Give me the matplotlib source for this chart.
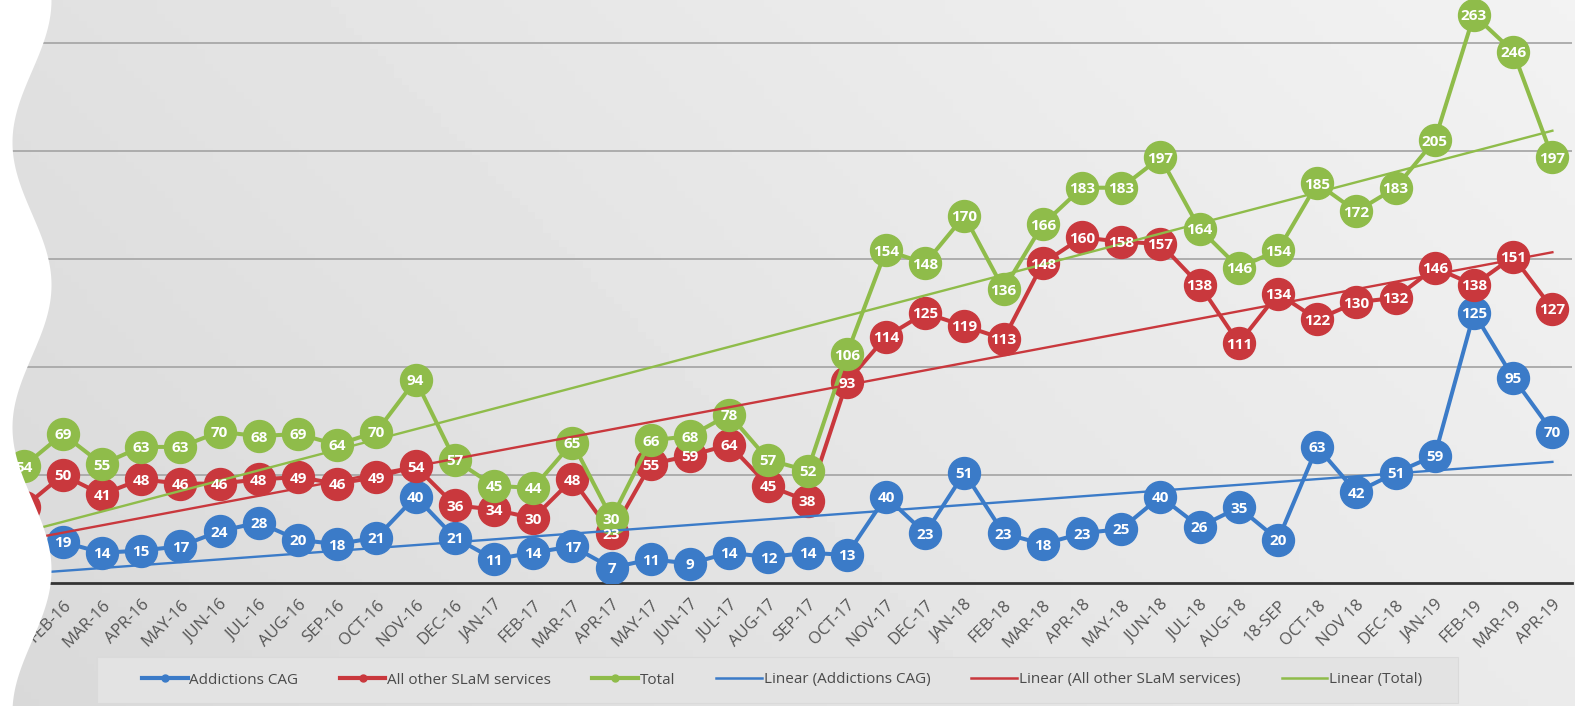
import numpy as np
import matplotlib.pyplot as plt
from matplotlib.lines import Line2D
from matplotlib.patches import Polygon, Rectangle

# -----------------------------
# data
# -----------------------------
months = ['JAN-16', 'FEB-16', 'MAR-16', 'APR-16', 'MAY-16', 'JUN-16', 'JUL-16', 'AUG-16',
          'SEP-16', 'OCT-16', 'NOV-16', 'DEC-16', 'JAN-17', 'FEB-17', 'MAR-17', 'APR-17',
          'MAY-17', 'JUN-17', 'JUL-17', 'AUG-17', 'SEP-17', 'OCT-17', 'NOV-17', 'DEC-17',
          'JAN-18', 'FEB-18', 'MAR-18', 'APR-18', 'MAY-18', 'JUN-18', 'JUL-18', 'AUG-18',
          '18-SEP', 'OCT-18', 'NOV 18', 'DEC-18', 'JAN-19', 'FEB-19', 'MAR-19', 'APR-19']

addictions = [19, 19, 14, 15, 17, 24, 28, 20, 18, 21, 40, 21, 11, 14, 17, 7, 11, 9, 14, 12,
              14, 13, 40, 23, 51, 23, 18, 23, 25, 40, 26, 35, 20, 63, 42, 51, 59, 125, 95, 70]
other = [35, 50, 41, 48, 46, 46, 48, 49, 46, 49, 54, 36, 34, 30, 48, 23, 55, 59, 64, 45,
         38, 93, 114, 125, 119, 113, 148, 160, 158, 157, 138, 111, 134, 122, 130, 132, 146, 138, 151, 127]
total = [54, 69, 55, 63, 63, 70, 68, 69, 64, 70, 94, 57, 45, 44, 65, 30, 66, 68, 78, 57,
         52, 106, 154, 148, 170, 136, 166, 183, 183, 197, 164, 146, 154, 185, 172, 183, 205, 263, 246, 197]

series_names = ['Addictions CAG', 'All other SLaM services', 'Total']

BLUE = '#3b7bc8'
RED = '#c9383d'
GREEN = '#8fbc4a'

plt.rcParams['font.family'] = ['Open Sans', 'DejaVu Sans']

W, H = 1575, 706
fig = plt.figure(figsize=(W / 100, H / 100), dpi=100)

# -----------------------------
# grey gradient background
# -----------------------------
bg = fig.add_axes([0, 0, 1, 1], zorder=-10)
gx, gy = np.meshgrid(np.linspace(0, 1, 200), np.linspace(0, 1, 100))
shade = 0.85 + 0.07 * gx + 0.03 * (1 - gy)
bg.imshow(shade, cmap='gray', vmin=0, vmax=1, aspect='auto', extent=[0, 1, 0, 1], origin='upper')
bg.axis('off')

# legend box (wider than the entries)
fig.patches.append(Rectangle((97 / W, 1 - 703 / H), (1458 - 97) / W, 46 / H,
                             transform=fig.transFigure, facecolor='#e3e3e3',
                             edgecolor='#dadada', lw=0.8, zorder=1))

# -----------------------------
# main axes
# -----------------------------
px_per_unit = 2.16
ax = fig.add_axes([4 / W, (H - 583) / H, 1568 / W, 583 / H])
ax.set_facecolor('none')
x = np.arange(len(months))
ax.set_xlim(-0.5, len(months) - 0.5)
ax.set_ylim(0, 583 / px_per_unit)

ax.set_yticks([50, 100, 150, 200, 250])
ax.yaxis.grid(True, color='#a8a8a8', lw=1.3)
ax.set_axisbelow(True)
ax.tick_params(axis='y', length=0, labelleft=False)
for s in ['left', 'right', 'top']:
    ax.spines[s].set_visible(False)
ax.spines['bottom'].set_color('#333333')
ax.spines['bottom'].set_linewidth(2)

ax.set_xticks(x)
ax.set_xticklabels(months, rotation=45, ha='right', rotation_mode='anchor',
                   fontsize=12, color='#555555')
ax.tick_params(axis='x', length=0, pad=10)

colors = [BLUE, RED, GREEN]
data = [addictions, other, total]

for vals, c in zip(data, colors):
    ax.plot(x, vals, color=c, lw=2.9, marker='o', ms=23, mec=c, mfc=c, zorder=3)

# linear trendlines
for vals, c in zip(data, colors):
    coef = np.polyfit(x, vals, 1)
    ends = x[[0, -1]]
    ax.plot(ends, np.polyval(coef, ends), color=c, lw=1.7, zorder=5)

# data labels
for vals in data:
    for i, v in enumerate(vals):
        ax.text(i, v, str(v), ha='center', va='center_baseline', color='white',
                fontsize=11, fontweight='bold', zorder=6)

# -----------------------------
# legend
# -----------------------------
handles = []
labels = []
for name, c in zip(series_names, colors):
    handles.append(Line2D([0], [0], color=c, lw=3, marker='o', ms=5, mec=c))
    labels.append(name)
for name, c in zip(series_names, colors):
    handles.append(Line2D([0], [0], color=c, lw=1.8))
    labels.append('Linear (' + name + ')')

leg = fig.legend(handles, labels, loc='center', bbox_to_anchor=(782 / W, 1 - 680 / H),
                 ncol=6, fontsize=11, handlelength=3.0, handletextpad=0.1,
                 columnspacing=2.7, frameon=False, labelcolor='#4a4a4a')
leg.set_zorder(2)

# -----------------------------
# wavy white left edge
# -----------------------------
ys = np.linspace(0, H, 400)
xs = 32 + 19.5 * np.cos(2 * np.pi * ys / 285)
pts = [(0, 1)] + [(xv / W, 1 - yv / H) for xv, yv in zip(xs, ys)] + [(0, 0)]
fig.patches.append(Polygon(pts, closed=True, transform=fig.transFigure,
                           facecolor='white', edgecolor='none', zorder=50))

fig.savefig('out.png', dpi=100)
